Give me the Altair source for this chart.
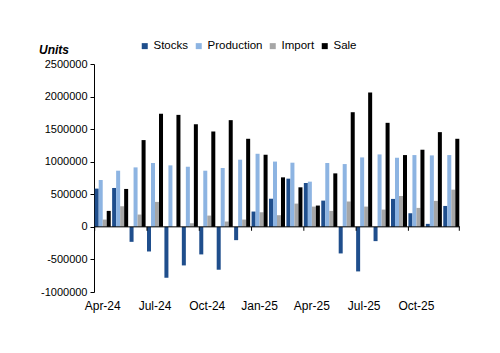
import altair as alt
import pandas as pd

months = ["Apr-24", "May-24", "Jun-24", "Jul-24", "Aug-24", "Sep-24", "Oct-24",
          "Nov-24", "Dec-24", "Jan-25", "Feb-25", "Mar-25", "Apr-25", "May-25",
          "Jun-25", "Jul-25", "Aug-25", "Sep-25", "Oct-25", "Nov-25", "Dec-25"]
label_months = ["Apr-24", "Jul-24", "Oct-24", "Jan-25", "Apr-25", "Jul-25", "Oct-25"]
series = ["Stocks", "Production", "Import", "Sale"]
colors = ["#1F4E8C", "#8DB4E2", "#A6A6A6", "#000000"]

stocks = [587000, 597000, -230000, -378000, -781000, -592000, -423000, -658000,
          -204000, 235000, 432000, 740000, 673000, 403000, -408000, -684000,
          -219000, 429000, 209000, 46000, 321000]
production = [719000, 862000, 913000, 980000, 944000, 923000, 862000, 903000,
              1031000, 1122000, 1002000, 985000, 694000, 980000, 964000, 1066000,
              1112000, 1061000, 1102000, 1097000, 1102000]
imports = [112000, 316000, 189000, 383000, 0, 56000, 173000, 82000, 112000,
           224000, 179000, 357000, 311000, 245000, 388000, 311000, 265000,
           474000, 291000, 398000, 571000]
sale = [245000, 582000, 1332000, 1735000, 1719000, 1577000, 1464000, 1638000,
        1352000, 1107000, 760000, 607000, 327000, 821000, 1760000, 2061000,
        1597000, 1102000, 1184000, 1454000, 1352000]
y_ticks = [-1000000, -500000, 0, 500000, 1000000, 1500000, 2000000, 2500000]

rows = []
for i, m in enumerate(months):
    for s, vals in zip(series, [stocks, production, imports, sale]):
        rows.append({"month": m, "series": s, "value": vals[i]})
df = pd.DataFrame(rows)

FONT = "Liberation Sans"

x_scale = alt.Scale(paddingInner=0.08, paddingOuter=0.04)
y_scale = alt.Scale(domain=[-1000000, 2500000], nice=False, zero=False)
y_axis = alt.Axis(title=None, values=y_ticks, grid=False,
                  labelExpr="datum.value < 0 ? '-' + format(-datum.value, 'd') : format(datum.value, 'd')",
                  labelOverlap=False, tickCount=8,
                  domainColor="black", tickColor="black", tickSize=4,
                  labelFontSize=11, labelPadding=3, labelColor="black",
                  labelFont=FONT)
x_axis = alt.Axis(title=None, values=label_months, labelAngle=0, domain=False,
                  ticks=False, labelPadding=8, labelFontSize=12, labelColor="black",
                  labelFont=FONT)

bars = alt.Chart(df).mark_bar().encode(
    x=alt.X("month:N", sort=months, scale=x_scale, axis=x_axis),
    xOffset=alt.XOffset("series:N", sort=series,
                        scale=alt.Scale(paddingInner=0, paddingOuter=0)),
    y=alt.Y("value:Q", scale=y_scale, axis=y_axis),
    color=alt.Color("series:N", sort=series,
                    scale=alt.Scale(domain=series, range=colors),
                    legend=alt.Legend(title=None, orient="none", direction="horizontal",
                                      legendX=45, legendY=-24, symbolType="square",
                                      symbolSize=36, symbolStrokeWidth=0,
                                      labelFontSize=11.5, labelFont=FONT,
                                      labelColor="black", columnPadding=4,
                                      labelOffset=3)),
)

zero_rule = alt.Chart(pd.DataFrame({"value": [0]})).mark_rule(
    color="black", strokeWidth=1
).encode(
    y=alt.Y("value:Q", scale=y_scale, axis=y_axis)
)

tick_df = pd.DataFrame({"month": label_months, "value": [0] * len(label_months),
                        "value2": [-60000] * len(label_months)})
tick_rules = alt.Chart(tick_df).mark_rule(color="black", strokeWidth=1).encode(
    x=alt.X("month:N", sort=months, bandPosition=0, scale=x_scale, axis=x_axis),
    y=alt.Y("value:Q", scale=y_scale, axis=y_axis),
    y2="value2:Q",
)

end_df = pd.DataFrame({"month": [months[-1]], "value": [0], "value2": [-60000]})
end_tick = alt.Chart(end_df).mark_rule(color="black", strokeWidth=1).encode(
    x=alt.X("month:N", sort=months, bandPosition=1, scale=x_scale, axis=x_axis),
    y=alt.Y("value:Q", scale=y_scale, axis=y_axis),
    y2="value2:Q",
)

chart = alt.layer(bars, zero_rule, tick_rules, end_tick).properties(
    width=366, height=228,
    background="white",
    title=alt.TitleParams("Units", anchor="start", dx=-55, dy=27, fontSize=12,
                          fontStyle="italic", fontWeight="bold", font=FONT,
                          color="black", offset=10, frame="group"),
    autosize=alt.AutoSizeParams(type="none"),
    padding={"left": 94, "top": 64, "right": 40, "bottom": 61},
).configure_view(stroke=None)

chart.save("out.html", embed_options={"renderer": "svg", "actions": False})
